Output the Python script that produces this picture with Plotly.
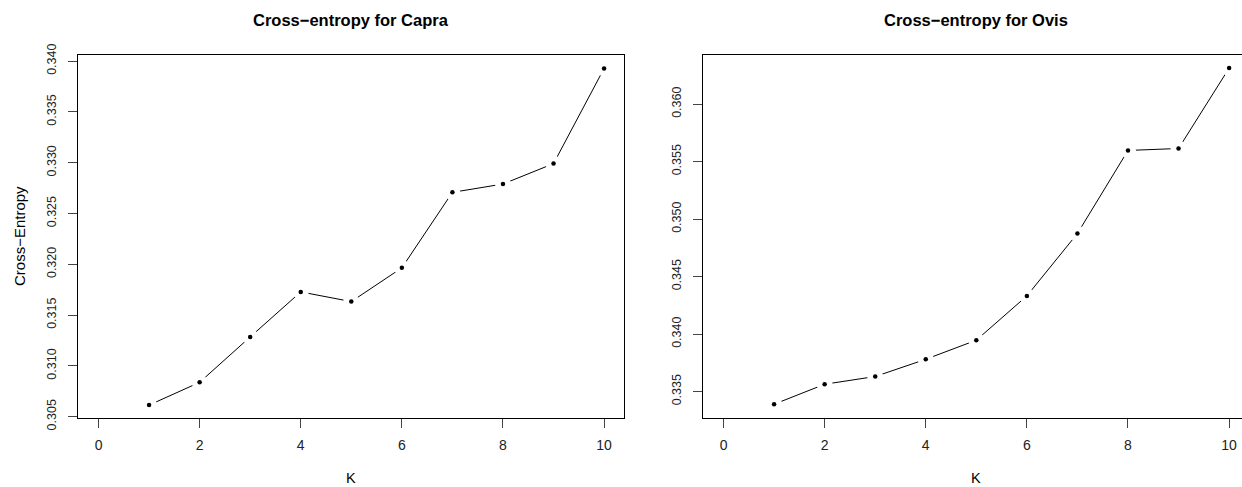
import plotly.graph_objects as go

# Cross-entropy per number of ancestral populations K
k_vals = [1, 2, 3, 4, 5, 6, 7, 8, 9, 10]
capra_ce = [0.30614, 0.30838, 0.31285, 0.31728, 0.31633, 0.31965, 0.32708, 0.32790, 0.32991, 0.33928]
ovis_ce = [0.33390, 0.33564, 0.33631, 0.33781, 0.33947, 0.34332, 0.34875, 0.35597, 0.35614, 0.36313]

x_ticks = [0, 2, 4, 6, 8, 10]
capra_yticks = [0.305, 0.310, 0.315, 0.320, 0.325, 0.330, 0.335, 0.340]
ovis_yticks = [0.335, 0.340, 0.345, 0.350, 0.355, 0.360]

NARROW = "Liberation Sans Narrow, Liberation Sans, Arial, sans-serif"
SANS = "Liberation Sans, Arial, sans-serif"
W, H = 1242, 487

fig = go.Figure()


def r_type_b(x, y, xa, ya):
    # R type="b": line, then white halo so segments stop short, then small dots
    fig.add_trace(go.Scatter(x=x, y=y, xaxis=xa, yaxis=ya, mode="lines",
                             line=dict(color="black", width=1), hoverinfo="skip"))
    fig.add_trace(go.Scatter(x=x, y=y, xaxis=xa, yaxis=ya, mode="markers",
                             marker=dict(color="white", size=16), hoverinfo="skip"))
    fig.add_trace(go.Scatter(x=x, y=y, xaxis=xa, yaxis=ya, mode="markers",
                             marker=dict(color="black", size=4.5), hoverinfo="x+y"))


r_type_b(k_vals, capra_ce, "x", "y")
r_type_b(k_vals, ovis_ce, "x2", "y2")

ydom = [1 - 417.7 / H, 1 - 55 / H]
axis_common = dict(
    showgrid=False, zeroline=False, showline=True, linecolor="black", linewidth=1,
    ticks="outside", ticklen=9, tickcolor="#444", tickwidth=1, automargin=False,
)
xfont = dict(family=SANS, size=14, color="#222")
yfont = dict(family=NARROW, size=12.5, color="#222")

fig.update_layout(
    width=W, height=H,
    margin=dict(l=0, r=0, t=0, b=0),
    plot_bgcolor="white", paper_bgcolor="white",
    showlegend=False,
    xaxis=dict(axis_common, domain=[78.3 / W, 624.3 / W], range=[-0.4, 10.4],
               tickvals=x_ticks, tickfont=xfont, ticklabelstandoff=5, mirror=True, anchor="y"),
    yaxis=dict(axis_common, domain=ydom, range=[0.3049, 0.3406], tickfont=yfont,
               ticklabelstandoff=7, tickvals=capra_yticks, tickformat=".3f", tickangle=-90,
               mirror=True, anchor="x"),
    xaxis2=dict(axis_common, domain=[703.3 / W, 1.0], range=[-0.4, 10.255],
                tickvals=x_ticks, tickfont=xfont, ticklabelstandoff=5, mirror=True, anchor="y2"),
    yaxis2=dict(axis_common, domain=ydom, range=[0.33273, 0.36427], tickfont=yfont,
                ticklabelstandoff=7, tickvals=ovis_yticks, tickformat=".3f", tickangle=-90,
                mirror=False, anchor="x2"),
)


# titles and axis labels, placed by pixel like the R device
def label(text, x, y, size=14, bold=False, angle=0):
    fig.add_annotation(
        text=f"<b>{text}</b>" if bold else text,
        x=x / W, y=1 - y / H, xref="paper", yref="paper",
        showarrow=False, textangle=angle,
        font=dict(family=SANS, size=size, color="black"),
        xanchor="center", yanchor="middle",
    )


label("Cross−entropy for Capra", 351, 20, size=16.5, bold=True)
label("Cross−entropy for Ovis", 976, 20, size=16.5, bold=True)
label("K", 351, 478, size=14.5)
label("K", 976, 478, size=14.5)
label("Cross−Entropy", 19, 236, size=15, angle=-90)

fig.write_html("out.html", config={"displayModeBar": False},
               post_script="document.body.style.margin='0';")
